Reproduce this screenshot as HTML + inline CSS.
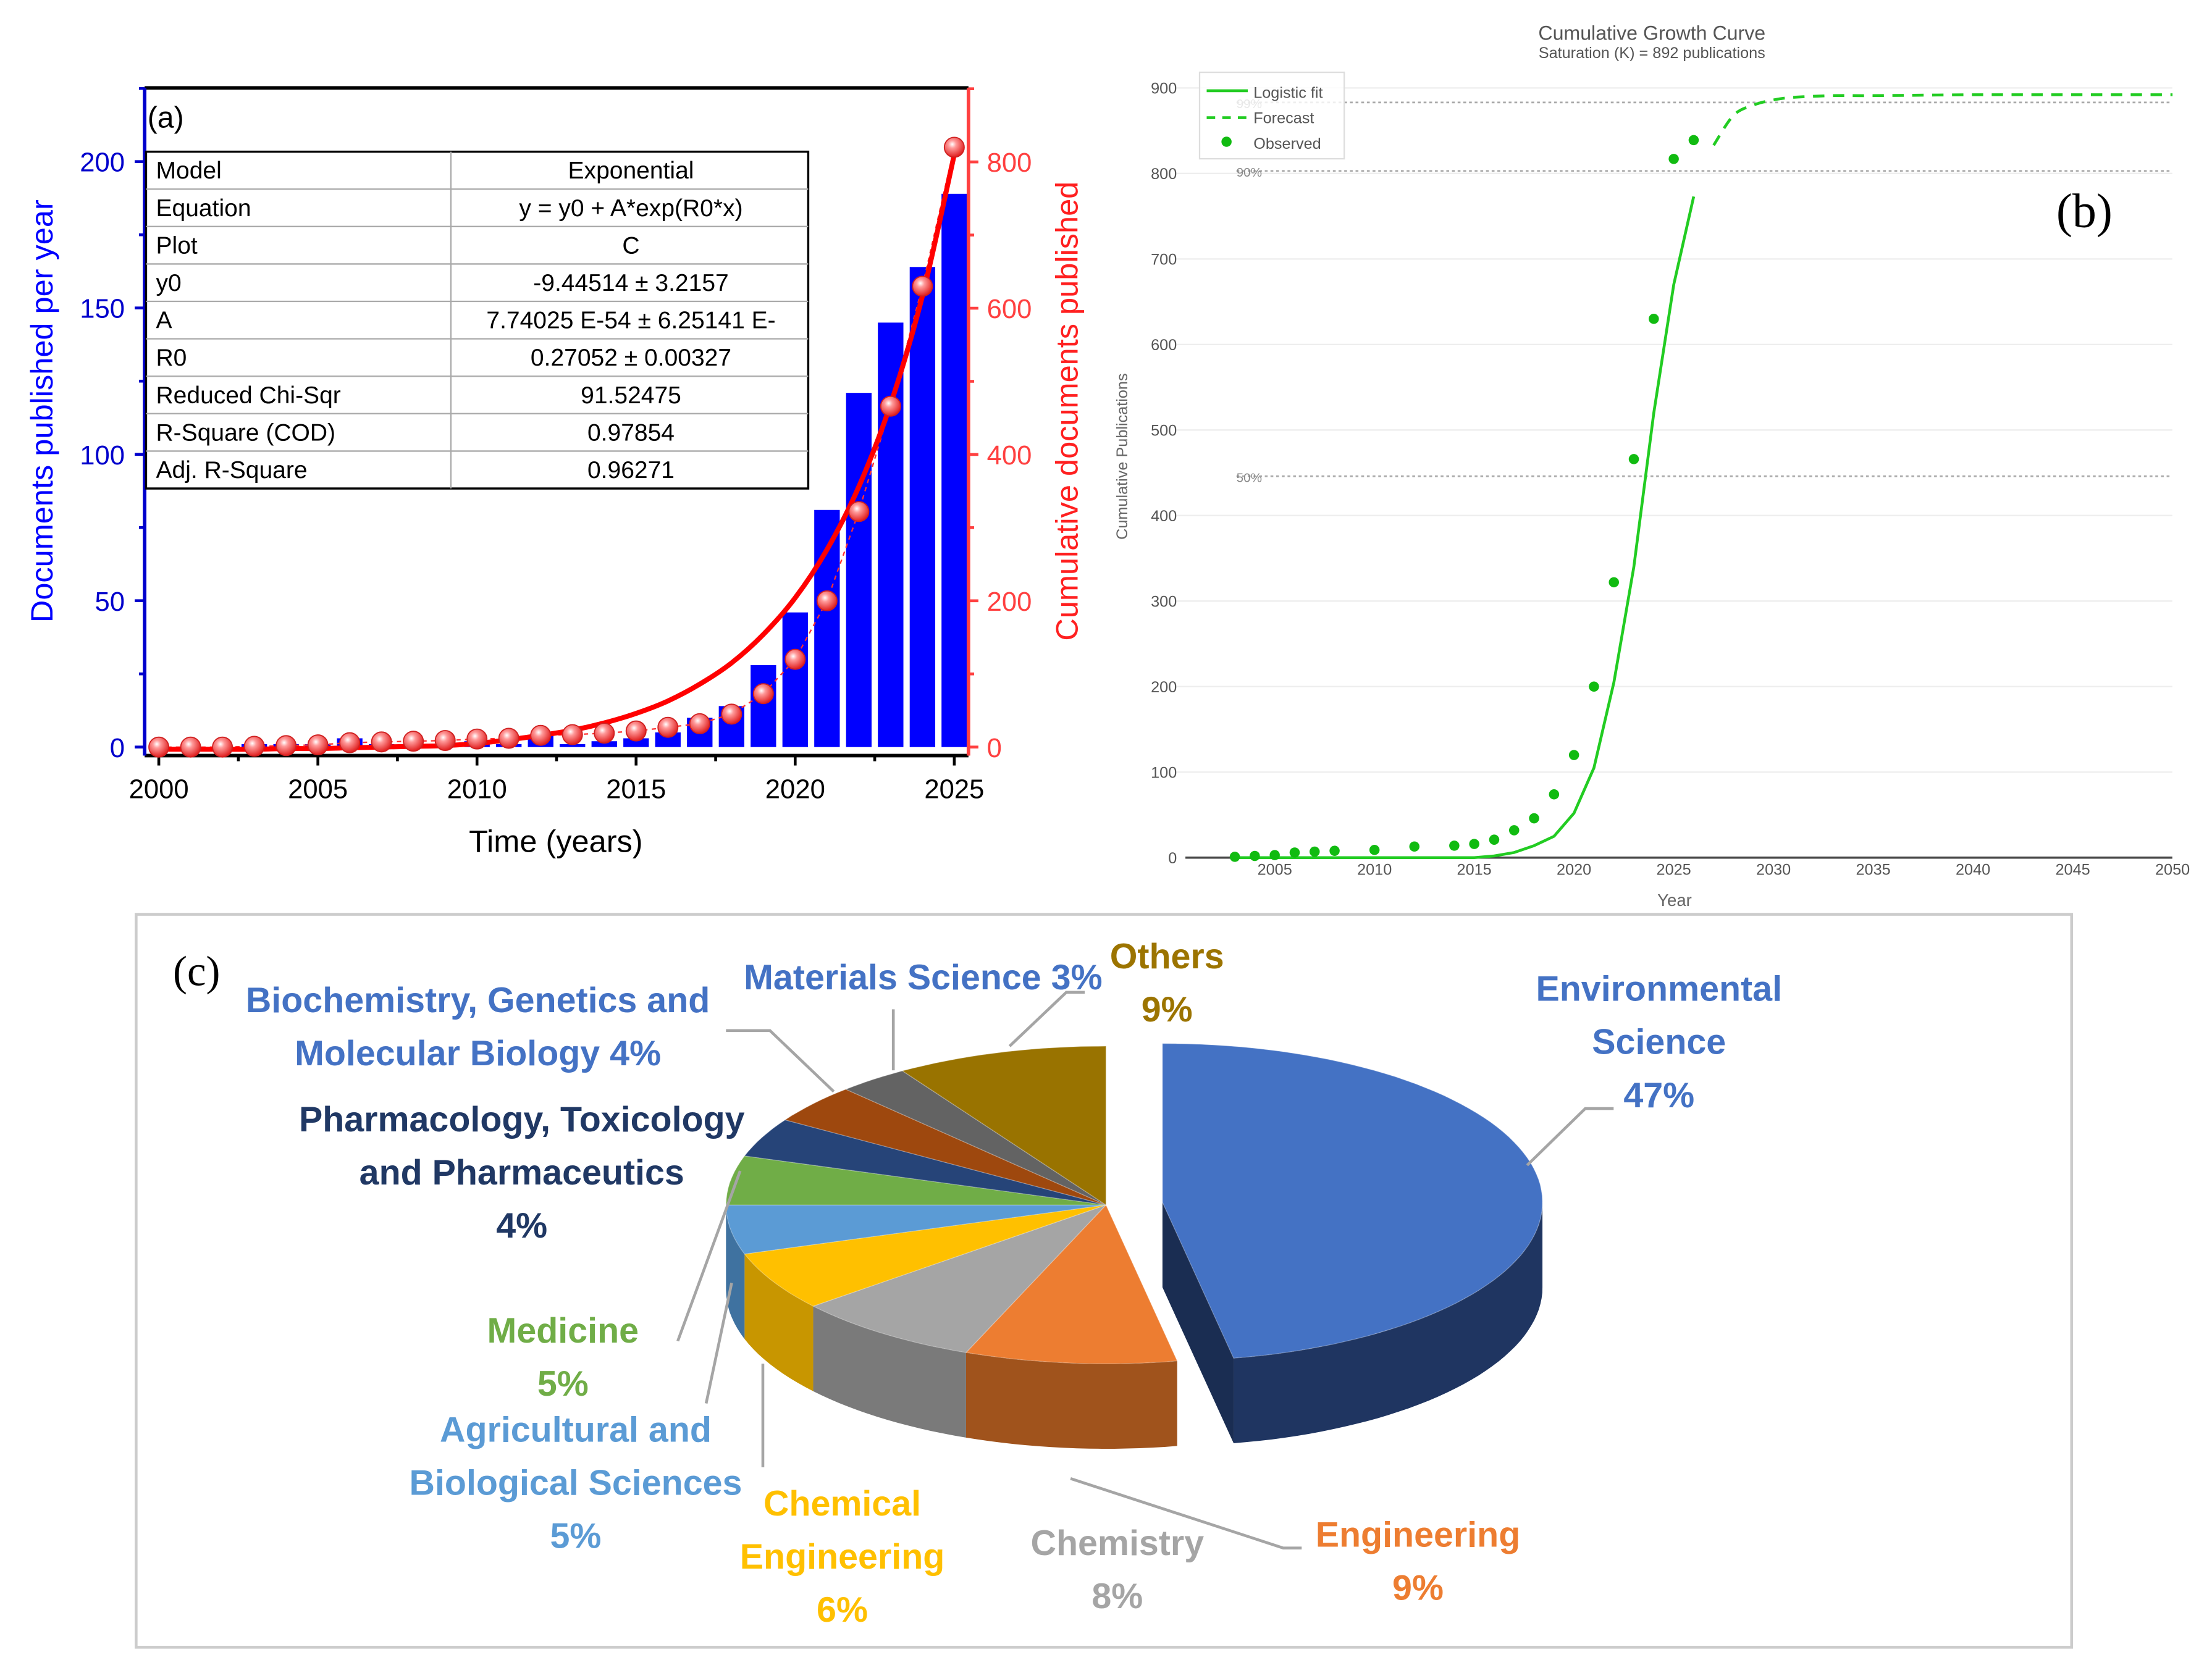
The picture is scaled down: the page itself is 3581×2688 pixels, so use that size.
<!DOCTYPE html>
<html><head><meta charset="utf-8"><style>
html,body{margin:0;padding:0;background:#fff;}
svg{display:block;}
</style></head><body>
<svg id="fig" xmlns="http://www.w3.org/2000/svg" width="3581" height="2688" viewBox="0 0 1560 1171" preserveAspectRatio="none" font-family="'Liberation Sans', sans-serif">
<defs>
<radialGradient id="ball" cx="0.4" cy="0.35" r="0.65">
<stop offset="0" stop-color="#ffffff"/><stop offset="0.3" stop-color="#ff9a9a"/><stop offset="1" stop-color="#e02020"/>
</radialGradient>
</defs>
<rect x="0" y="0" width="1560" height="1171" fill="#fff"/>
<g id="pa"></g>
<g id="pb"></g>
<g id="pc"></g>
</svg>
<script>
// ---------- Panel (a) data ----------
const aYears=[2000,2001,2002,2003,2004,2005,2006,2007,2008,2009,2010,2011,2012,2013,2014,2015,2016,2017,2018,2019,2020,2021,2022,2023,2024,2025];
const aPerYear=[0,0,0,1,1,1,3,1,1,1,2,1,4,1,2,3,5,10,14,28,46,81,121,145,164,189];
const aCumulative=[0,0,0,1,2,3,6,7,8,9,11,12,16,17,19,22,27,32,45,73,120,200,322,466,630,820];
const aFit=[-3,-3,-3,-3,-2,-2,-1,0,1,2,5,10,16,23,33,46,63,86,115,154,204,270,356,469,617,810];
const aLeftTicks=[0,50,100,150,200];
const aRightTicks=[0,200,400,600,800];
const aXTicks=[2000,2005,2010,2015,2020,2025];
const tableRows=[["Model","Exponential"],["Equation","y = y0 + A*exp(R0*x)"],["Plot","C"],["y0","-9.44514 ± 3.2157"],["A","7.74025 E-54 ± 6.25141 E-"],["R0","0.27052 ± 0.00327"],["Reduced Chi-Sqr","91.52475"],["R-Square (COD)","0.97854"],["Adj. R-Square","0.96271"]];

// ---------- Panel (b) data ----------
const bObsYears=[2003,2004,2005,2006,2007,2008,2010,2012,2014,2015,2016,2017,2018,2019,2020,2021,2022,2023,2024,2025,2026];
const bObs=[1,2,3,6,7,8,9,13,14,16,21,32,46,74,120,200,322,466,630,817,839];
const bFitYears=[2003,2005,2008,2010,2012,2014,2015,2016,2017,2018,2019,2020,2021,2022,2023,2024,2025,2026];
const bFit=[0,0,0,0,0,0,0,2,6,14,25,52,105,205,340,520,670,773];
const bFcYears=[2027,2028,2029,2030,2031,2033,2035,2040,2045,2050];
const bFc=[833,868,880,886,889,891,891,892,892,892];
const bYTicks=[0,100,200,300,400,500,600,700,800,900];
const bXTicks=[2005,2010,2015,2020,2025,2030,2035,2040,2045,2050];
const bRefLines=[["99%",883],["90%",803],["50%",446]];

// ---------- Panel (c) data ----------
const cCats=["Environmental Science","Engineering","Chemistry","Chemical Engineering","Agricultural and Biological Sciences","Medicine","Pharmacology, Toxicology and Pharmaceutics","Biochemistry, Genetics and Molecular Biology","Materials Science","Others"];
const cShares=[47,9,8,6,5,5,4,4,3,9];

const NS="http://www.w3.org/2000/svg";
function mk(parent,tag,attrs,text){const e=document.createElementNS(NS,tag);for(const k in attrs)e.setAttribute(k,attrs[k]);if(text!==undefined)e.textContent=text;parent.appendChild(e);return e;}

// ===== Panel A =====
const pa=document.getElementById('pa');
const L=102,R=683,T=62,B=533;
const ax=y=>112+(y-2000)*22.44;
const ayL=v=>527-v*2.065;
const ayR=v=>527-v*0.516;
// bars
aYears.forEach((yr,i)=>{
  const r=mk(pa,'rect',{x:ax(yr)-9,y:ayL(aPerYear[i]),width:18,height:Math.max(0,527-ayL(aPerYear[i])),fill:'#0000FF'});
  
  
});
// frame
mk(pa,'line',{x1:L,y1:T,x2:R,y2:T,stroke:'#000','stroke-width':2.5});
mk(pa,'line',{x1:L,y1:B,x2:R,y2:B,stroke:'#000','stroke-width':2.5});
mk(pa,'line',{x1:L,y1:T,x2:L,y2:B,stroke:'#0000CC','stroke-width':2.5});
mk(pa,'line',{x1:R,y1:T,x2:R,y2:B,stroke:'#FF4040','stroke-width':2.5});
// left ticks
for(let v=0;v<=225;v+=25){const y=ayL(v);mk(pa,'line',{x1:L-(v%50===0?7:4),y1:y,x2:L,y2:y,stroke:'#0000CC','stroke-width':2});}
aLeftTicks.forEach(v=>{const t=mk(pa,'text',{x:L-14,y:ayL(v)+7,'text-anchor':'end','font-size':19,fill:'#0000CC'},v);});
for(let v=0;v<=900;v+=100){const y=ayR(v);if(y<T)continue;mk(pa,'line',{x1:R,y1:y,x2:R+(v%200===0?7:4),y2:y,stroke:'#FF4040','stroke-width':2});}
aRightTicks.forEach(v=>{const t=mk(pa,'text',{x:R+13,y:ayR(v)+7,'font-size':19,fill:'#FF4040'},v);});
for(let yr=2000;yr<=2025;yr+=2.5){const x=ax(yr);mk(pa,'line',{x1:x,y1:B,x2:x,y2:B+(yr%5===0?7:4),stroke:'#000','stroke-width':2});}
aXTicks.forEach(yr=>{const t=mk(pa,'text',{x:ax(yr),y:563,'text-anchor':'middle','font-size':19,fill:'#000'},yr);});
let t;
t=mk(pa,'text',{x:392,y:601,'text-anchor':'middle','font-size':22,fill:'#000'},'Time (years)');
t=mk(pa,'text',{x:0,y:0,'text-anchor':'middle','font-size':22,fill:'#0000FF',transform:'translate(37,290) rotate(-90)'},'Documents published per year');
t=mk(pa,'text',{x:0,y:0,'text-anchor':'middle','font-size':22,fill:'#FF2020',transform:'translate(760,290) rotate(-90)'},'Cumulative documents published');
t=mk(pa,'text',{x:104,y:90,'font-size':21,fill:'#000'},'(a)');
// dashed connecting line
let dl='';aYears.forEach((yr,i)=>{dl+=(i?'L':'M')+ax(yr)+','+ayR(aCumulative[i]);});
mk(pa,'path',{d:dl,fill:'none',stroke:'#FF3030','stroke-width':1,'stroke-dasharray':'3,3'});
// fit curve (catmull-rom)
function smooth(pts){let d='M'+pts[0][0]+','+pts[0][1];for(let i=0;i<pts.length-1;i++){const p0=pts[Math.max(0,i-1)],p1=pts[i],p2=pts[i+1],p3=pts[Math.min(pts.length-1,i+2)];d+=' C'+(p1[0]+(p2[0]-p0[0])/6)+','+(p1[1]+(p2[1]-p0[1])/6)+' '+(p2[0]-(p3[0]-p1[0])/6)+','+(p2[1]-(p3[1]-p1[1])/6)+' '+p2[0]+','+p2[1];}return d;}
const fitP=mk(pa,'path',{d:smooth(aYears.map((yr,i)=>[ax(yr),ayR(aFit[i])])),fill:'none',stroke:'#FF0000','stroke-width':3.5});

aYears.forEach((yr,i)=>{const c=mk(pa,'circle',{cx:ax(yr),cy:ayR(aCumulative[i]),r:7,fill:'url(#ball)',stroke:'#d02020','stroke-width':0.8});});
// table
const tg=mk(pa,'g',{});
const tx0=103,tx1=570,tcol=318,ty0=107,rh=26.4;
mk(tg,'rect',{x:tx0,y:ty0,width:tx1-tx0,height:rh*9,fill:'#fff',stroke:'#000','stroke-width':1.5});
for(let i=1;i<9;i++)mk(tg,'line',{x1:tx0,y1:ty0+i*rh,x2:tx1,y2:ty0+i*rh,stroke:'#aaa','stroke-width':1});
mk(tg,'line',{x1:tcol,y1:ty0,x2:tcol,y2:ty0+9*rh,stroke:'#aaa','stroke-width':1});
tableRows.forEach((r,i)=>{const y=ty0+i*rh+19;mk(tg,'text',{x:tx0+7,y:y,'font-size':17,fill:'#000'},r[0]);mk(tg,'text',{x:445,y:y,'font-size':17,'text-anchor':'middle',fill:'#000'},r[1]);});

// ===== Panel B =====
const pb=document.getElementById('pb');
const bx=y=>899+(y-2005)*14.07;
const by=v=>605-v*0.6033;
bYTicks.forEach(v=>{if(v>0)mk(pb,'line',{x1:830,y1:by(v),x2:1532,y2:by(v),stroke:'#eeeeee','stroke-width':1});const tt=mk(pb,'text',{x:830,y:by(v)+4,'text-anchor':'end','font-size':11,fill:'#555'},v);});
mk(pb,'line',{x1:836,y1:by(0),x2:1532,y2:by(0),stroke:'#444','stroke-width':1.5});
bXTicks.forEach(yr=>{const tt=mk(pb,'text',{x:bx(yr),y:617,'text-anchor':'middle','font-size':11,fill:'#555'},yr);});
bRefLines.forEach(r=>{mk(pb,'line',{x1:872,y1:by(r[1]),x2:1532,y2:by(r[1]),stroke:'#aaa','stroke-width':1.2,'stroke-dasharray':'2,2'});mk(pb,'text',{x:872,y:by(r[1])+4,'font-size':9,fill:'#888'},r[0]);});
let fp='';bFitYears.forEach((yr,i)=>{fp+=(i?'L':'M')+bx(yr)+','+by(bFit[i]);});
t=mk(pb,'path',{d:fp,fill:'none',stroke:'#22CC22','stroke-width':2});
t=mk(pb,'path',{d:smooth(bFcYears.map((yr,i)=>[bx(yr),by(bFc[i])])),fill:'none',stroke:'#22CC22','stroke-width':2,'stroke-dasharray':'8,6'});
bObsYears.forEach((yr,i)=>{const c=mk(pb,'circle',{cx:bx(yr),cy:by(bObs[i]),r:3.6,fill:'#11BB11'});});
t=mk(pb,'text',{x:1165,y:28,'text-anchor':'middle','font-size':14,fill:'#555'},'Cumulative Growth Curve');
t=mk(pb,'text',{x:1165,y:41,'text-anchor':'middle','font-size':11,fill:'#555'},'Saturation (K) = 892 publications');
t=mk(pb,'text',{x:1181,y:639,'text-anchor':'middle','font-size':12,fill:'#666'},'Year');
t=mk(pb,'text',{x:0,y:0,'text-anchor':'middle','font-size':11,fill:'#666',transform:'translate(795,322) rotate(-90)'},'Cumulative Publications');
const lg=mk(pb,'g',{});
mk(lg,'rect',{x:846,y:51,width:102,height:61,fill:'#fff','fill-opacity':0.8,stroke:'#ddd','stroke-width':1});
mk(lg,'line',{x1:851,y1:64,x2:880,y2:64,stroke:'#22CC22','stroke-width':2});
mk(lg,'text',{x:884,y:69,'font-size':11,fill:'#555'},'Logistic fit');
mk(lg,'line',{x1:851,y1:83,x2:880,y2:83,stroke:'#22CC22','stroke-width':2,'stroke-dasharray':'6,5'});
mk(lg,'text',{x:884,y:87,'font-size':11,fill:'#555'},'Forecast');
mk(lg,'circle',{cx:865,cy:100,r:3.6,fill:'#11BB11'});
mk(lg,'text',{x:884,y:105,'font-size':11,fill:'#555'},'Observed');
t=mk(pb,'text',{x:1470,y:160,'text-anchor':'middle','font-size':34,'font-family':"'Liberation Serif', serif",fill:'#000'},'(b)');

// ===== Panel C =====
const pc=document.getElementById('pc');
t=mk(pc,'rect',{x:96,y:645,width:1365,height:517,fill:'#fff',stroke:'#cccccc','stroke-width':2});
t=mk(pc,'text',{x:122,y:695,'font-size':30,'font-family':"'Liberation Serif', serif",fill:'#000'},'(c)');
const topCol=['#4472C4','#ED7D31','#A5A5A5','#FFC000','#5B9BD5','#70AD47','#264478','#9E480E','#636363','#997300'];
const sideCol=['#1F3561','#A0531C','#7A7A7A','#C89600','#3F72A0','#4F7E30','#17294A','#6E300A','#444','#6C5100'];
const CX=780,CY=850,RX=268,RY=112,DEP=60;
const total=cShares.reduce((a,b)=>a+b,0);
const slices=[];let ang=-90;
cShares.forEach((s,i)=>{const a0=ang,a1=ang+s/total*360;ang=a1;const mid=(a0+a1)/2*Math.PI/180;const off=i===0?40:0;slices.push({i,a0,a1,dx:off*Math.cos(mid),dy:off*Math.sin(mid)*0.5});});
const P=(s,a,d)=>[CX+s.dx+RX*Math.cos(a*Math.PI/180),CY+s.dy+RY*Math.sin(a*Math.PI/180)+(d||0)];
function arcPts(s,a0,a1,d){const pts=[];const n=Math.max(2,Math.ceil((a1-a0)/2));for(let k=0;k<=n;k++)pts.push(P(s,a0+(a1-a0)*k/n,d));return pts;}
// sides (front portion only: angle in [0,180])
slices.forEach(s=>{
  const lo=Math.max(s.a0,0),hi=Math.min(s.a1,180);
  if(hi>lo){const top=arcPts(s,lo,hi,0),bot=arcPts(s,lo,hi,DEP).reverse();
    const d='M'+top.concat(bot).map(p=>p[0].toFixed(1)+','+p[1].toFixed(1)).join('L')+'Z';
    const e=mk(pc,'path',{d:d,fill:sideCol[s.i]});}
  // cut faces for exploded slice
  if(s.i===0){const c=[CX+s.dx,CY+s.dy];const pe=P(s,s.a1,0);
    mk(pc,'path',{d:`M${c[0]},${c[1]}L${pe[0]},${pe[1]}L${pe[0]},${pe[1]+DEP}L${c[0]},${c[1]+DEP}Z`,fill:'#1A2D52'});}
});
slices.forEach(s=>{
  const pts=arcPts(s,s.a0,s.a1,0);const c=[CX+s.dx,CY+s.dy];
  const d='M'+c[0]+','+c[1]+'L'+pts.map(p=>p[0].toFixed(1)+','+p[1].toFixed(1)).join('L')+'Z';
  const e=mk(pc,'path',{d:d,fill:topCol[s.i],stroke:'rgba(255,255,255,0.25)','stroke-width':0.6});
  
  
});
// leader lines
const leaders=[[[1077,822],[1118,782],[1138,782]],[[755,1043],[905,1092],[918,1092]],[[538,962],[538,1035]],[[516,905],[498,990]],[[522,826],[478,946]],[[588,770],[543,727],[512,727]],[[630,755],[630,712]],[[712,738],[752,700],[765,700]]];
leaders.forEach(l=>{const e=mk(pc,'polyline',{points:l.map(p=>p.join(',')).join(' '),fill:'none',stroke:'#A5A5A5','stroke-width':2});});
// labels
const labels=[
 [['Environmental','Science','47%'],1170,697,'#4472C4'],
 [['Engineering','9%'],1000,1082,'#ED7D31'],
 [['Chemistry','8%'],788,1088,'#A5A5A5'],
 [['Chemical','Engineering','6%'],594,1060,'#FFC000'],
 [['Agricultural and','Biological Sciences','5%'],406,1008,'#5B9BD5'],
 [['Medicine','5%'],397,938,'#70AD47'],
 [['Pharmacology, Toxicology','and Pharmaceutics','4%'],368,789,'#203864'],
 [['Biochemistry, Genetics and','Molecular Biology  4%'],337,705,'#4472C4'],
 [['Materials Science  3%'],651,689,'#4472C4'],
 [['Others','9%'],823,674,'#9C7400']];
labels.forEach((lb,i)=>{const g=mk(pc,'text',{'text-anchor':'middle','font-size':25,'font-weight':'bold',fill:lb[3]});
  
  
  lb[0].forEach((s,k)=>{mk(g,'tspan',{x:lb[1],y:lb[2]+9+k*37.5,'xml:space':'preserve'},s);});});
</script>
</body></html>
